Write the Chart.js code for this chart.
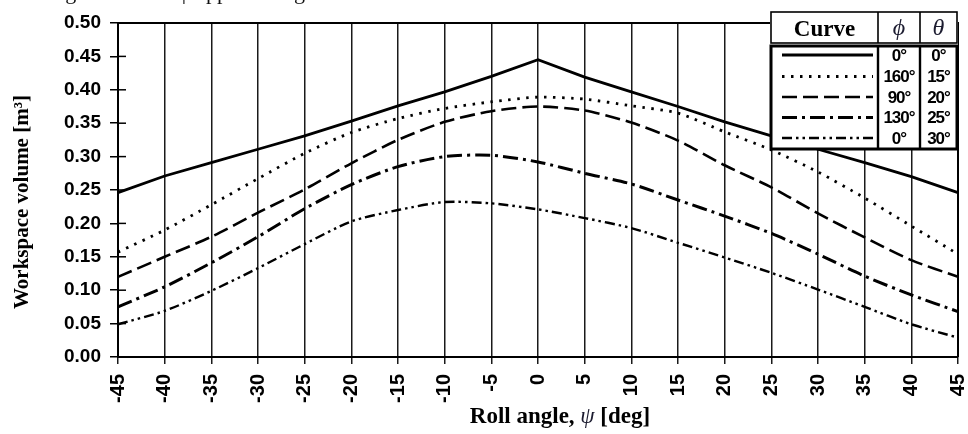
<!DOCTYPE html>
<html>
<head>
<meta charset="utf-8">
<script src="https://cdn.jsdelivr.net/npm/chart.js@4.4.1/dist/chart.umd.min.js"></script>
<style>
    body { margin: 0; background: #fff; }
    #wrap { width: 968px; height: 434px; position: relative; }
</style>
</head>
<body>
<div id="wrap"><canvas id="volumeChart" width="968" height="434"></canvas></div>
<script>
// ==================== DATA ====================

const rollAngles = [-45, -40, -35, -30, -25, -20, -15, -10, -5, 0, 5, 10, 15, 20, 25, 30, 35, 40, 45];
const yTicks = [0, 0.05, 0.10, 0.15, 0.20, 0.25, 0.30, 0.35, 0.40, 0.45, 0.50];

// workspace volume [m3] for each curve (phi / theta)
const curveA = [0.246, 0.271, 0.291, 0.311, 0.331, 0.353, 0.376, 0.397, 0.420, 0.445, 0.419, 0.397, 0.375, 0.352, 0.331, 0.311, 0.291, 0.270, 0.246];
const curveB = [0.157, 0.190, 0.228, 0.267, 0.305, 0.336, 0.357, 0.372, 0.382, 0.389, 0.386, 0.376, 0.365, 0.337, 0.310, 0.277, 0.238, 0.196, 0.154];
const curveC = [0.120, 0.150, 0.180, 0.216, 0.251, 0.290, 0.325, 0.352, 0.368, 0.375, 0.369, 0.351, 0.324, 0.287, 0.254, 0.215, 0.179, 0.145, 0.120];
const curveD = [0.075, 0.105, 0.141, 0.180, 0.222, 0.258, 0.285, 0.300, 0.302, 0.292, 0.275, 0.259, 0.235, 0.211, 0.185, 0.154, 0.121, 0.093, 0.068];
const curveE = [0.049, 0.069, 0.099, 0.133, 0.169, 0.203, 0.220, 0.232, 0.230, 0.221, 0.208, 0.193, 0.171, 0.149, 0.126, 0.101, 0.075, 0.049, 0.029];

const curvePhi = ['0°', '160°', '90°', '130°', '0°'];
const curveTheta = ['0°', '15°', '20°', '25°', '30°'];

// ==================== STYLES ====================

const lineStyles = [
    { width: 2.8, dash: [] },
    { width: 2.8, dash: [2.5, 6.5] },
    { width: 2.6, dash: [15, 6] },
    { width: 3, dash: [15, 5, 3, 5] },
    { width: 2.4, dash: [10, 4, 2.5, 4, 2.5, 4] }
];

const SANS = '"Liberation Sans", Arial, sans-serif';
const SERIF = '"Liberation Serif", "Times New Roman", serif';

// ==================== EXTRA DRAWING ====================

const framePlugin = {
    id: 'frame',
    afterDatasetsDraw(chart) {
        const ctx = chart.ctx;
        const a = chart.chartArea;
        const yScale = chart.scales.y;
        ctx.save();
        ctx.strokeStyle = '#000';
        // inner y tick marks
        ctx.lineWidth = 1.5;
        yTicks.forEach(v => {
            const y = yScale.getPixelForValue(v);
            ctx.beginPath();
            ctx.moveTo(a.left, y);
            ctx.lineTo(a.left + 8, y);
            ctx.stroke();
        });
        // top and right border
        ctx.lineWidth = 2;
        ctx.beginPath();
        ctx.moveTo(a.left, a.top);
        ctx.lineTo(a.right, a.top);
        ctx.lineTo(a.right, a.bottom);
        ctx.stroke();
        ctx.restore();
    },
    afterDraw(chart) {
        const ctx = chart.ctx;
        ctx.save();

        // clipped caption line from the page above
        ctx.fillStyle = '#111';
        ctx.font = '22px ' + SERIF;
        ctx.textAlign = 'left';
        ctx.textBaseline = 'alphabetic';
        ctx.fillText('the large values of ψ approaching the', 10, -1);

        // y title
        ctx.save();
        ctx.translate(23, 202);
        ctx.rotate(-Math.PI / 2);
        ctx.font = 'bold 21px ' + SERIF;
        ctx.textAlign = 'center';
        ctx.textBaseline = 'middle';
        ctx.fillStyle = '#000';
        ctx.fillText('Workspace volume [m³]', 0, 0);
        ctx.restore();

        // x title, psi in italic
        const parts = [
            { t: 'Roll angle, ', f: 'bold 23px ' + SERIF, c: '#000' },
            { t: 'ψ', f: 'italic 23px ' + SERIF, c: '#1c1c30' },
            { t: ' [deg]', f: 'bold 23px ' + SERIF, c: '#000' }
        ];
        let total = 0;
        parts.forEach(p => { ctx.font = p.f; p.w = ctx.measureText(p.t).width; total += p.w; });
        let x = 560 - total / 2;
        ctx.textAlign = 'left';
        parts.forEach(p => {
            ctx.font = p.f;
            ctx.fillStyle = p.c;
            ctx.fillText(p.t, x, 423);
            x += p.w;
        });

        // legend table
        const L = 771, R = 957, T = 12, H = 43, B = 149;
        const c1 = 878, c2 = 920;
        ctx.fillStyle = '#fff';
        ctx.fillRect(L - 1, T - 1, R - L + 2, B - T + 2);
        ctx.strokeStyle = '#000';
        ctx.lineWidth = 1.6;
        ctx.strokeRect(L, T, R - L, H - T);
        ctx.beginPath();
        ctx.moveTo(c1, T); ctx.lineTo(c1, H);
        ctx.moveTo(c2, T); ctx.lineTo(c2, H);
        ctx.stroke();
        ctx.lineWidth = 3;
        ctx.strokeRect(L, H + 3, R - L, B - H - 3);
        ctx.lineWidth = 2.4;
        ctx.beginPath();
        ctx.moveTo(c1, H + 3); ctx.lineTo(c1, B);
        ctx.moveTo(c2, H + 3); ctx.lineTo(c2, B);
        ctx.stroke();

        ctx.fillStyle = '#000';
        ctx.textAlign = 'center';
        ctx.font = 'bold 23px ' + SERIF;
        ctx.fillText('Curve', (L + c1) / 2, 36);
        ctx.fillStyle = '#1c1c30';
        ctx.font = 'italic 24px ' + SERIF;
        ctx.fillText('\u03D5', (c1 + c2) / 2, 35);
        ctx.fillText('θ', (c2 + R) / 2, 35);

        const rowY = [55, 76.5, 97, 117.5, 138];
        ctx.textBaseline = 'middle';
        rowY.forEach((ry, i) => {
            const st = lineStyles[i];
            ctx.strokeStyle = '#000';
            ctx.lineWidth = st.width;
            ctx.setLineDash(st.dash);
            ctx.beginPath();
            ctx.moveTo(782, ry);
            ctx.lineTo(873, ry);
            ctx.stroke();
            ctx.setLineDash([]);
            ctx.fillStyle = '#000';
            ctx.font = 'bold 17px ' + SANS;
            ctx.letterSpacing = '-1px';
            ctx.fillText(curvePhi[i], (c1 + c2) / 2, ry + 1);
            ctx.fillText(curveTheta[i], (c2 + R) / 2, ry + 1);
            ctx.letterSpacing = '0px';
        });

        ctx.restore();
    }
};

// ==================== CHART ====================

const seriesList = [curveA, curveB, curveC, curveD, curveE];

const datasets = seriesList.map((values, i) => ({
    label: 'phi ' + curvePhi[i] + ', theta ' + curveTheta[i],
    data: values,
    borderColor: '#000',
    borderWidth: lineStyles[i].width,
    borderDash: lineStyles[i].dash,
    pointRadius: 0,
    fill: false,
    tension: i === 0 ? 0 : 0.25
}));

const ctx = document.getElementById('volumeChart').getContext('2d');

new Chart(ctx, {
    type: 'line',
    data: { labels: rollAngles, datasets: datasets },
    options: {
        responsive: false,
        animation: false,
        layout: { padding: { top: 23, right: 10, left: 0, bottom: 0 } },
        plugins: {
            legend: { display: false },
            tooltip: { enabled: false }
        },
        scales: {
            x: {
                type: 'category',
                offset: false,
                afterFit: (scale) => {
                    scale.height = 77;
                    scale.paddingLeft = 0;
                    scale.paddingRight = 0;
                },
                grid: {
                    color: '#1a1a1a',
                    lineWidth: 1.5,
                    tickLength: 7,
                    drawOnChartArea: true
                },
                border: { display: true, color: '#000', width: 2 },
                ticks: {
                    autoSkip: false,
                    minRotation: 90,
                    maxRotation: 90,
                    padding: 10,
                    color: '#000',
                    font: { family: SANS, size: 20, weight: 'bold' }
                }
            },
            y: {
                min: 0,
                max: 0.5,
                afterFit: (scale) => {
                    scale.width = 118;
                    scale.paddingTop = 0;
                    scale.paddingBottom = 0;
                },
                afterBuildTicks: (scale) => { scale.ticks = yTicks.map(v => ({ value: v })); },
                grid: {
                    drawOnChartArea: false,
                    color: '#000',
                    lineWidth: 1.5,
                    tickLength: 8
                },
                border: { display: true, color: '#000', width: 2 },
                ticks: {
                    padding: 9,
                    color: '#000',
                    font: { family: SANS, size: 19, weight: 'bold' },
                    callback: (v) => Number(v).toFixed(2)
                }
            }
        }
    },
    plugins: [framePlugin]
});
</script>
</body>
</html>
